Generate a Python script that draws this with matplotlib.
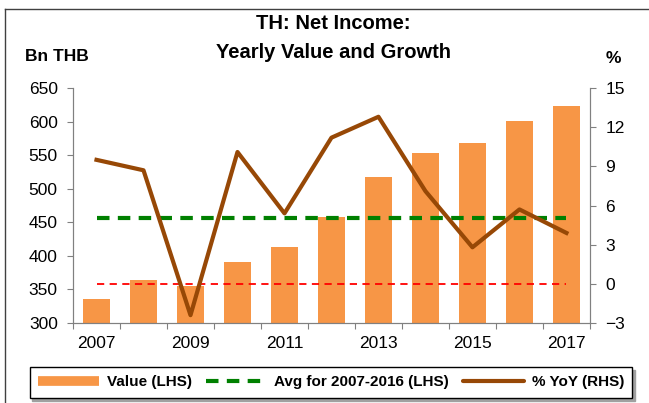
import matplotlib.pyplot as plt
import numpy as np
from matplotlib.lines import Line2D

plt.rcParams['font.family'] = ['Liberation Sans', 'DejaVu Sans']

# Data
years = [2007, 2008, 2009, 2010, 2011, 2012, 2013, 2014, 2015, 2016, 2017]
value = [335.7, 364, 355.5, 391, 412.7, 458, 517.5, 553.6, 568.5, 600.4, 623.6]  # Bn THB
yoy = [9.5, 8.7, -2.4, 10.1, 5.4, 11.2, 12.8, 7.1, 2.8, 5.7, 3.9]  # %
avg_2007_2016 = 456.8

ind = np.arange(len(years))

fig = plt.figure(figsize=(6.49, 4.03), dpi=100)
ax = fig.add_axes([0.1125, 0.1985, 0.7965, 0.583])
ax2 = ax.twinx()

ax.bar(ind, value, 0.59, color='#F79646', zorder=2)
ax.plot([ind[0], ind[-1]], [avg_2007_2016, avg_2007_2016], color='#008000', lw=3,
        ls=(0, (3, 2)), zorder=3)
ax2.plot([ind[0], ind[-1]], [0, 0], color='#FF0000', lw=1.3, ls=(0, (4, 3)), zorder=1)
ax2.plot(ind, yoy, color='#974806', lw=3, zorder=4)
ax.patch.set_visible(False)

# axes styling
ax.set_xlim(-0.5, len(years) - 0.5)
ax.set_ylim(300, 650)
ax.set_yticks(np.arange(300, 651, 50))
ax2.set_ylim(-3, 15)
ax2.set_yticks(np.arange(-3, 16, 3))

ax.set_xticks(np.arange(-0.5, len(years), 1))
ax.set_xticklabels([])
ax.set_xticks(ind[::2], minor=True)
ax.set_xticklabels([str(y) for y in years[::2]], minor=True)
ax.tick_params(axis='x', which='minor', length=0, labelsize=12.5, pad=9)
ax.tick_params(axis='x', which='major', length=4, direction='out', color='#808080')
ax.tick_params(axis='y', length=4, direction='out', color='#808080', labelsize=12.5, pad=7)
ax2.tick_params(axis='y', length=4, direction='out', color='#808080', labelsize=12.5, pad=7)

for a in (ax, ax2):
    a.spines['top'].set_visible(False)
    for s in ('left', 'right', 'bottom'):
        a.spines[s].set_color('#808080')

# titles
fig.text(0.514, 0.942, 'TH: Net Income:', ha='center', va='center', fontsize=14.5, fontweight='bold')
fig.text(0.514, 0.87, 'Yearly Value and Growth', ha='center', va='center', fontsize=14.5, fontweight='bold')
fig.text(0.088, 0.86, 'Bn THB', ha='center', va='center', fontsize=12.5, fontweight='bold')
fig.text(0.945, 0.855, '%', ha='center', va='center', fontsize=12.5, fontweight='bold')

# legend
handles = [Line2D([], [], color='#F79646', lw=7, solid_capstyle='butt'),
           Line2D([], [], color='#008000', lw=3, ls=(0, (3, 2)), dash_capstyle='butt'),
           Line2D([], [], color='#974806', lw=3, solid_capstyle='round')]
labels = ['Value (LHS)', 'Avg for 2007-2016 (LHS)', '% YoY (RHS)']
leg = fig.legend(handles, labels, loc='center', bbox_to_anchor=(0.51, 0.051), ncol=3,
                 frameon=True, fancybox=False, edgecolor='black',
                 shadow={'ox': 2, 'oy': -2, 'color': '#a0a0a0', 'alpha': 1},
                 prop={'weight': 'bold', 'size': 11}, handlelength=4.0, handletextpad=0.5,
                 columnspacing=0.9, borderpad=0.55, borderaxespad=0)
leg.get_frame().set_linewidth(1.0)

# slide frame
fig.add_artist(Line2D([0.008, 1.0], [0.978, 0.978], color='#404040', lw=1, transform=fig.transFigure))
fig.add_artist(Line2D([0.008, 0.008], [0.0, 0.978], color='#404040', lw=1, transform=fig.transFigure))

plt.savefig('out.png', dpi=100)
